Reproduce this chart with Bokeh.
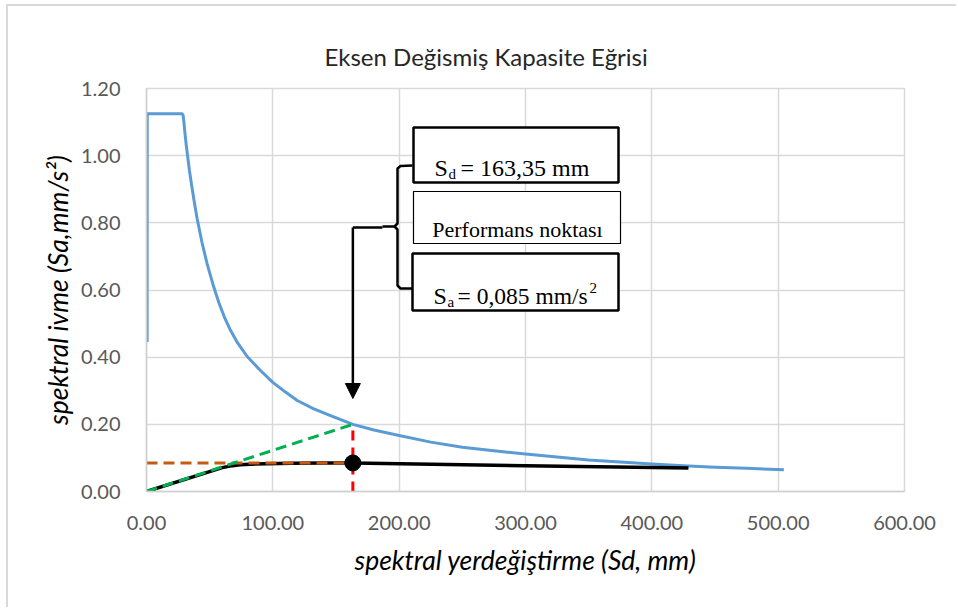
from bokeh.plotting import figure
from bokeh.models import Range1d, FixedTicker, NumeralTickFormatter, Arrow, NormalHead
from bokeh.core.properties import value
from bokeh.embed import file_html
from bokeh.resources import INLINE

# ---- data ----
cap_sd = [0.5, 0.6, 28.2, 29.0, 29.6, 30.5, 31.5, 32.5, 34.0, 36.0, 38.0, 40.1, 44.0, 48.0,
          52.5, 57.3, 62.0, 66.5, 72.0, 79.7, 90.0, 100.0, 110.0, 119.3, 132.0, 145.6,
          163.35, 180.0, 200.0, 225.0, 250.0, 275.0, 300.0, 325.0, 350.0, 375.0, 400.0,
          425.0, 450.0, 475.0, 504.5]
cap_sa = [0.445, 1.125, 1.125, 1.12, 1.10, 1.065, 1.03, 1.0, 0.955, 0.905, 0.858, 0.812,
          0.740, 0.678, 0.618, 0.562, 0.516, 0.480, 0.443, 0.402, 0.361, 0.325, 0.296,
          0.271, 0.247, 0.226, 0.200, 0.183, 0.167, 0.147, 0.132, 0.121, 0.112, 0.103,
          0.094, 0.088, 0.082, 0.077, 0.072, 0.069, 0.065]

dem_sd = [0.0, 60.0, 64.0, 68.0, 74.0, 82.0, 95.0, 115.0, 140.0, 163.35, 300.0, 429.0]
dem_sa = [0.0, 0.071, 0.074, 0.077, 0.0795, 0.0815, 0.083, 0.084, 0.0845, 0.0845, 0.077, 0.070]

perf_sd = 163.35
perf_sa = 0.085
perf_sa_elastic = 0.20

x_ticks = [0, 100, 200, 300, 400, 500, 600]
y_ticks = [0.0, 0.2, 0.4, 0.6, 0.8, 1.0, 1.2]

# ---- geometry helpers (annotation placement, in pixels of the frame) ----
FL, FR, FT, FB = 146.0, 904.0, 88.0, 491.0
def X(px):
    return (px - FL) * 600.0 / (FR - FL)
def Y(py):
    return (FB - py) * 1.2 / (FB - FT)

OFFX, OFFY = 8, 6
W, H = 958 - OFFX, 609 - OFFY

p = figure(width=W, height=H, output_backend="svg", toolbar_location=None,
           x_range=Range1d(0, 600), y_range=Range1d(0, 1.2),
           min_border_left=int(FL - OFFX), min_border_right=int(W - (FR - OFFX)),
           min_border_top=int(FT - OFFY), min_border_bottom=int(H - (FB - OFFY)))
p.styles = {"border-left": "2px solid #d9d9d9", "border-top": "2px solid #d9d9d9",
            "margin-left": "6px", "margin-top": "4px"}

p.title.text = "Eksen Değismiş Kapasite Eğrisi"
p.title.text_font = "Lato"
p.title.text_font_size = "24px"
p.title.text_font_style = "normal"
p.title.text_color = "#262626"
p.title.align = "left"
p.title.offset = 178
p.title.standoff = 36

p.outline_line_color = "#d9d9d9"
p.outline_line_width = 1.5
for ax in (p.xaxis, p.yaxis):
    ax.axis_line_color = "#d0d0d0"
    ax.axis_line_width = 1.5
    ax.major_tick_line_color = None
    ax.minor_tick_line_color = None
    ax.major_label_text_font = "Lato"
    ax.major_label_text_font_size = "20px"
    ax.major_label_text_color = "#595959"
    ax.axis_label_text_font = "Lato"
    ax.axis_label_text_font_size = "26.5px"
    ax.axis_label_text_font_style = "italic"
    ax.axis_label_text_color = "#000000"
    ax.formatter = NumeralTickFormatter(format="0.00")
p.xaxis.ticker = FixedTicker(ticks=x_ticks)
p.yaxis.ticker = FixedTicker(ticks=y_ticks)
p.xaxis.major_label_standoff = 18
p.yaxis.major_label_standoff = 20
p.xaxis.axis_label = "spektral yerdeğiştirme (Sd, mm)"
p.yaxis.axis_label = "spektral ivme (Sa,mm/s²)"
p.xaxis.axis_label_standoff = 11
p.yaxis.axis_label_standoff = 4

p.xgrid.ticker = FixedTicker(ticks=x_ticks)
p.ygrid.ticker = FixedTicker(ticks=y_ticks)
p.grid.grid_line_color = "#d9d9d9"
p.grid.grid_line_width = 1.5

# curves
p.line(cap_sd, cap_sa, line_color="#5b9bd5", line_width=3, line_join="round")
p.line(dem_sd, dem_sa, line_color="black", line_width=3.5, line_join="round")
p.line([0, perf_sd], [perf_sa, perf_sa], line_color="#c55a11", line_width=3, line_dash="11 6")
p.line([0, perf_sd], [0, perf_sa_elastic], line_color="#00b050", line_width=3, line_dash="11 6")
p.line([perf_sd, perf_sd], [0, perf_sa_elastic], line_color="#ff0000", line_width=3, line_dash="10 7")
p.scatter([perf_sd], [perf_sa], size=16, fill_color="black", line_color="black")

# annotation boxes
p.quad(left=[X(413)], right=[X(618)], top=[Y(127)], bottom=[Y(182)],
       fill_color="white", line_color="black", line_width=2.5)
p.quad(left=[X(413)], right=[X(620)], top=[Y(191)], bottom=[Y(243)],
       fill_color="white", line_color="black", line_width=1.2)
p.quad(left=[X(412)], right=[X(618)], top=[Y(253)], bottom=[Y(310)],
       fill_color="white", line_color="black", line_width=2.5)

serif = value("Liberation Serif")
def txt(px, py, s, size, align="left"):
    p.text([X(px)], [Y(py)], text=[s], text_font=serif, text_font_size=size,
           text_align=align, text_baseline="alphabetic", text_color="black")

txt(434, 167, "S", "24px")
txt(448, 173, "d", "15px")
txt(460, 167, "= 163,35 mm", "24px")
txt(517, 229, "Performans noktası", "22px", align="center")
txt(433, 295, "S", "24px")
txt(447, 301, "a", "15px")
txt(457, 295, "= 0,085 mm/s", "23.5px")
txt(589, 287, "2", "15px")

# bracket
p.line([X(412), X(400), X(397), X(397), X(394), X(382)],
       [Y(165), Y(165.5), Y(168), Y(223), Y(226), Y(226)], line_color="black", line_width=2.5)
p.line([X(394), X(397), X(397), X(400), X(412)],
       [Y(226), Y(229), Y(285), Y(288), Y(288)], line_color="black", line_width=2.5)

# arrow to the performance point
p.line([X(382), perf_sd], [Y(227), Y(227)], line_color="black", line_width=2.5)
p.add_layout(Arrow(end=NormalHead(size=15, fill_color="black", line_color="black"),
                   x_start=perf_sd, y_start=Y(227), x_end=perf_sd, y_end=Y(398),
                   line_color="black", line_width=2.5))

open("out.html", "w").write(file_html(p, INLINE))
